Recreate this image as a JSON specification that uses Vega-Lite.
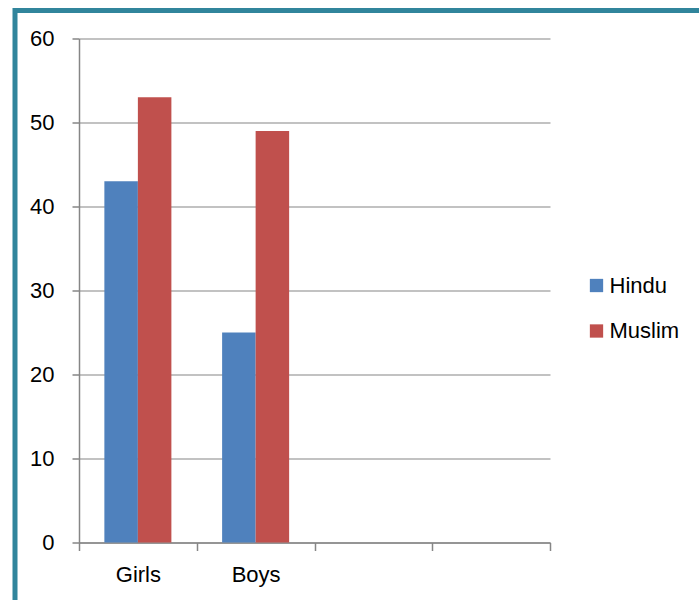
{
  "$schema": "https://vega.github.io/schema/vega-lite/v6.json",
  "autosize": {"type": "none"},
  "padding": {"left": 15, "top": 10.5, "right": -10, "bottom": -10.5},
  "width": 694,
  "height": 600,
  "background": "white",
  "config": {
    "font": "Liberation Sans",
    "view": {"stroke": "#31859C", "strokeWidth": 5},
    "axis": {
      "title": null,
      "domainColor": "#868686",
      "domainWidth": 1.5,
      "tickColor": "#868686",
      "tickWidth": 1.5,
      "gridColor": "#868686",
      "gridWidth": 1.2,
      "labelColor": "#000000",
      "labelFont": "Liberation Sans",
      "labelFontSize": 22
    }
  },
  "data": {
    "values": [
      {"group": "Girls", "religion": "Hindu", "value": 43},
      {"group": "Girls", "religion": "Muslim", "value": 53},
      {"group": "Boys", "religion": "Hindu", "value": 25},
      {"group": "Boys", "religion": "Muslim", "value": 49}
    ]
  },
  "mark": {"type": "bar"},
  "encoding": {
    "x": {
      "field": "group",
      "type": "nominal",
      "sort": null,
      "scale": {
        "domain": ["Girls", "Boys", " ", "  "],
        "range": [64, 535],
        "paddingInner": 0,
        "paddingOuter": 0
      },
      "axis": {
        "orient": "bottom",
        "offset": -68,
        "grid": false,
        "tickBand": "extent",
        "tickSize": 8,
        "labelPadding": 14,
        "labelAngle": 0
      }
    },
    "xOffset": {
      "field": "religion",
      "type": "nominal",
      "scale": {"domain": ["Hindu", "Muslim"], "paddingInner": 0, "paddingOuter": 0.757}
    },
    "y": {
      "field": "value",
      "type": "quantitative",
      "scale": {"domain": [0, 60], "range": [532, 28], "nice": false, "zero": true},
      "axis": {
        "orient": "left",
        "offset": -64,
        "values": [0, 10, 20, 30, 40, 50, 60],
        "grid": true,
        "tickSize": 7,
        "labelPadding": 18
      }
    },
    "color": {
      "field": "religion",
      "type": "nominal",
      "scale": {"domain": ["Hindu", "Muslim"], "range": ["#4F81BD", "#C0504D"]},
      "legend": {
        "title": null,
        "orient": "none",
        "legendX": 570.5,
        "legendY": 264,
        "padding": 0,
        "symbolType": "square",
        "symbolSize": 177,
        "symbolStrokeWidth": 0,
        "symbolOpacity": 1,
        "labelOffset": 2,
        "labelFontSize": 22,
        "labelFont": "Liberation Sans",
        "labelColor": "#000000",
        "rowPadding": 23.5
      }
    }
  }
}
